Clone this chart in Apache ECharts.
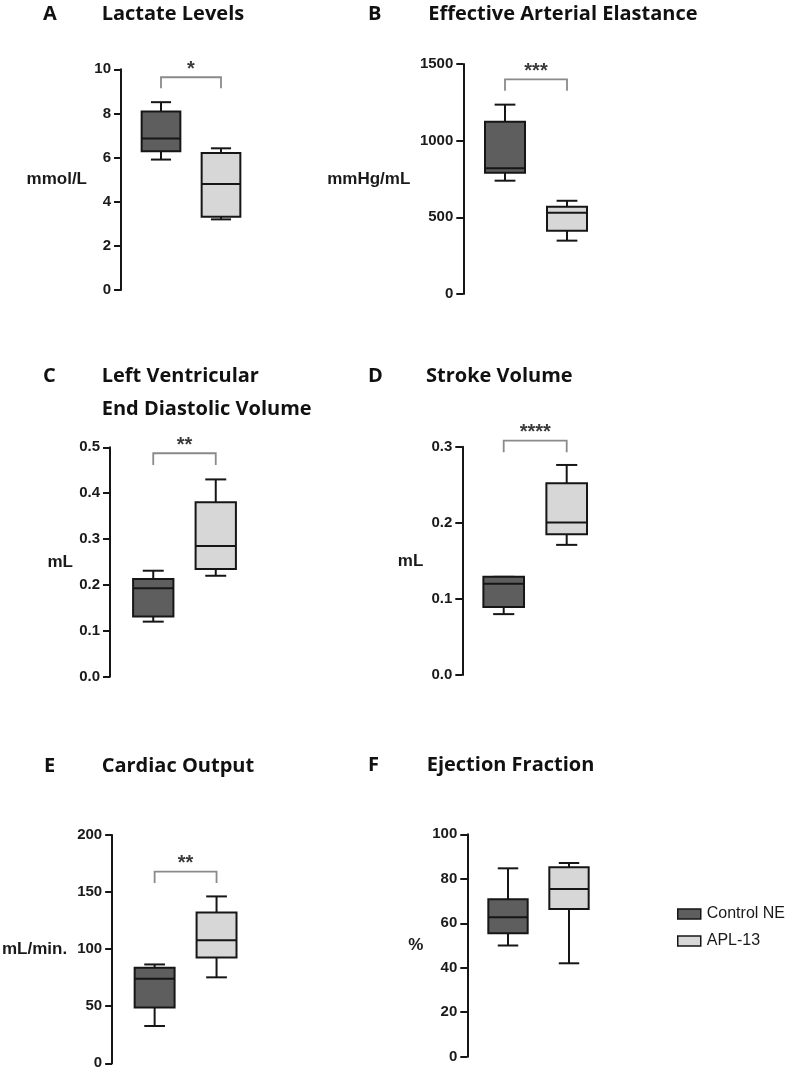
<!DOCTYPE html>
<html>
<head>
<meta charset="utf-8">
<script src="https://cdn.jsdelivr.net/npm/echarts@6/dist/echarts.min.js"></script>
<style>
html,body{margin:0;padding:0;background:#fff;}
#chart{width:788px;height:1072px;}
</style>
</head>
<body>
<div id="chart"></div>
<script>
// ---------- data ----------
const groups = ['Control NE', 'APL-13'];
const panelLetters = ['A', 'B', 'C', 'D', 'E', 'F'];
const panelTitles = [
  ['Lactate Levels'],
  ['Effective Arterial Elastance'],
  ['Left Ventricular', 'End Diastolic Volume'],
  ['Stroke Volume'],
  ['Cardiac Output'],
  ['Ejection Fraction']
];
const yUnits = ['mmol/L', 'mmHg/mL', 'mL', 'mL', 'mL/min.', '%'];
const yMax = [10, 1500, 0.5, 0.3, 200, 100];
const yInterval = [2, 500, 0.1, 0.1, 50, 20];
const yDecimals = [0, 0, 1, 1, 0, 0];
// box statistics: [min, Q1, median, Q3, max]
const controlStats = [
  [5.91, 6.29, 6.87, 8.09, 8.51],
  [739, 791, 820, 1124, 1235],
  [0.120, 0.131, 0.193, 0.213, 0.231],
  [0.080, 0.0895, 0.120, 0.129, 0.129],
  [32.7, 48.9, 74, 83.6, 86.6],
  [50, 55.5, 62.7, 70.8, 84.7]
];
const aplStats = [
  [3.20, 3.32, 4.80, 6.21, 6.42],
  [348, 413, 530, 569, 608],
  [0.220, 0.235, 0.285, 0.380, 0.430],
  [0.171, 0.185, 0.2005, 0.252, 0.276],
  [75.3, 92.7, 107.9, 132, 146.2],
  [42, 66.4, 75.4, 85.2, 87.1]
];
// significance brackets: stars, bracket top level, leg end level (data units)
const sigStars = ['*', '***', '**', '****', '**', ''];
const sigTop = [9.64, 1400, 0.487, 0.308, 168, null];
const sigLeg = [9.14, 1326, 0.4615, 0.2926, 158, null];

// ---------- layout (pixels) ----------
const panelLayout = [
  {axisX: 121,   top: 69.3,  bottom: 290,    left: 131,   width: 120, nameGap: 34, nameShift: -3, letterX: 43,  titleX: 101.7, titleY: 14.5},
  {axisX: 463.3, top: 64,    bottom: 294,    left: 474,   width: 124, nameGap: 53, nameShift: -3, letterX: 368, titleX: 428.3, titleY: 14.5},
  {axisX: 110,   top: 447.3, bottom: 676.7,  left: 122,   width: 125, nameGap: 37, nameShift: -1, letterX: 43,  titleX: 101.7, titleY: 376.3},
  {axisX: 462.3, top: 446.7, bottom: 675,    left: 472.2, width: 126, nameGap: 39, nameShift: -3, letterX: 368, titleX: 426,   titleY: 376.3},
  {axisX: 110,   top: 835,   bottom: 1063.3, left: 121.5, width: 126, nameGap: 45, nameShift: 0,  letterX: 44,  titleX: 101.7, titleY: 766.7},
  {axisX: 467.3, top: 834.3, bottom: 1056.7, left: 477.5, width: 122, nameGap: 44, nameShift: 9,  letterX: 368, titleX: 426.7, titleY: 765}
];
const fills = ['#5e5e5e', '#d7d7d7'];
const ink = '#161616';

// ---------- render helpers ----------
function renderBox(params, api) {
  const xi = api.value(0);
  const lo = api.coord([xi, api.value(1)]);
  const q1 = api.coord([xi, api.value(2)]);
  const md = api.coord([xi, api.value(3)]);
  const q3 = api.coord([xi, api.value(4)]);
  const hi = api.coord([xi, api.value(5)]);
  const bw = api.size([1, 0])[0] * 0.645;
  const cx = lo[0];
  const cap = bw * 0.26;
  const ls = {stroke: ink, lineWidth: 2, fill: null};
  return {
    type: 'group',
    children: [
      {type: 'line', shape: {x1: cx, y1: hi[1], x2: cx, y2: q3[1]}, style: ls},
      {type: 'line', shape: {x1: cx, y1: lo[1], x2: cx, y2: q1[1]}, style: ls},
      {type: 'line', shape: {x1: cx - cap, y1: hi[1], x2: cx + cap, y2: hi[1]}, style: ls},
      {type: 'line', shape: {x1: cx - cap, y1: lo[1], x2: cx + cap, y2: lo[1]}, style: ls},
      {type: 'rect', shape: {x: cx - bw / 2, y: q3[1], width: bw, height: q1[1] - q3[1]},
        style: {fill: api.visual('color'), stroke: ink, lineWidth: 2}},
      {type: 'line', shape: {x1: cx - bw / 2, y1: md[1], x2: cx + bw / 2, y2: md[1]}, style: ls}
    ]
  };
}

function renderBracket(params, api) {
  const top = api.value(2), leg = api.value(3);
  const a0 = api.coord([api.value(0), leg]);
  const a1 = api.coord([api.value(0), top]);
  const b1 = api.coord([api.value(1), top]);
  const b0 = api.coord([api.value(1), leg]);
  const stars = sigStars[api.value(4)];
  return {
    type: 'group',
    children: [
      {type: 'polyline', shape: {points: [a0, a1, b1, b0]},
        style: {stroke: '#8a8a8a', lineWidth: 1.8, fill: null}},
      {type: 'text', x: (a1[0] + b1[0]) / 2, y: a1[1] - 8,
        style: {text: stars, fill: '#3a3a3a', font: 'bold 20px "Liberation Sans"',
          align: 'center', verticalAlign: 'middle'}}
    ]
  };
}

// ---------- build option ----------
const grid = [], xAxis = [], yAxis = [], series = [], graphic = [];
panelLayout.forEach((L, i) => {
  grid.push({left: L.left, top: L.top, width: L.width, height: L.bottom - L.top, containLabel: false});
  xAxis.push({type: 'category', gridIndex: i, data: groups, boundaryGap: true,
    axisLine: {show: false}, axisTick: {show: false}, axisLabel: {show: false}, splitLine: {show: false}});
  yAxis.push({
    type: 'value', gridIndex: i, min: 0, max: yMax[i], interval: yInterval[i],
    offset: L.left - L.axisX,
    name: yUnits[i], nameLocation: 'middle', nameRotate: 0, nameGap: L.nameGap,
    nameTextStyle: {fontFamily: 'Liberation Sans', fontWeight: 'bold', fontSize: 17, color: '#1a1a1a',
      align: 'right', verticalAlign: 'middle',
      padding: L.nameShift >= 0 ? [0, 0, 2 * L.nameShift, 0] : [-2 * L.nameShift, 0, 0, 0]},
    axisLine: {show: true, lineStyle: {color: ink, width: 2}},
    axisTick: {show: true, inside: false, length: 7, lineStyle: {color: ink, width: 2}},
    axisLabel: {show: true, margin: 10, fontFamily: 'Liberation Sans', fontWeight: 'bold', fontSize: 15, color: '#1a1a1a',
      formatter: v => Number(v).toFixed(yDecimals[i])},
    splitLine: {show: false}
  });
  series.push({
    type: 'custom', name: groups[0], xAxisIndex: i, yAxisIndex: i,
    itemStyle: {color: fills[0], borderColor: ink, borderWidth: 1.5},
    renderItem: renderBox, data: [[0].concat(controlStats[i])], silent: true
  });
  series.push({
    type: 'custom', name: groups[1], xAxisIndex: i, yAxisIndex: i,
    itemStyle: {color: fills[1], borderColor: ink, borderWidth: 1.5},
    renderItem: renderBox, data: [[1].concat(aplStats[i])], silent: true
  });
  if (sigStars[i]) {
    series.push({
      type: 'custom', xAxisIndex: i, yAxisIndex: i, clip: false, silent: true,
      renderItem: renderBracket, data: [[0, 1, sigTop[i], sigLeg[i], i]]
    });
  }
  graphic.push({type: 'text', x: L.letterX, y: L.titleY,
    style: {text: panelLetters[i], font: 'bold 20px "Open Sans"', fill: '#111', verticalAlign: 'middle'}});
  panelTitles[i].forEach((t, k) => {
    graphic.push({type: 'text', x: L.titleX, y: L.titleY + k * 32.5,
      style: {text: t, font: 'bold 20px "Open Sans"', fill: '#111', verticalAlign: 'middle'}});
  });
});

const option = {
  backgroundColor: '#ffffff',
  animation: false,
  grid, xAxis, yAxis, series, graphic,
  legend: {
    data: groups, orient: 'vertical', left: 672, top: 900,
    icon: 'rect', itemWidth: 23, itemHeight: 10, itemGap: 9,
    selectedMode: false,
    itemStyle: {borderColor: ink, borderWidth: 1.5},
    textStyle: {fontFamily: 'Liberation Sans', fontSize: 16, color: '#1a1a1a', lineHeight: 18, padding: [0, 0, 0, 1]}
  }
};

const chart = echarts.init(document.getElementById('chart'), null, {renderer: 'canvas', width: 788, height: 1072});
chart.setOption(option);
</script>
</body>
</html>
